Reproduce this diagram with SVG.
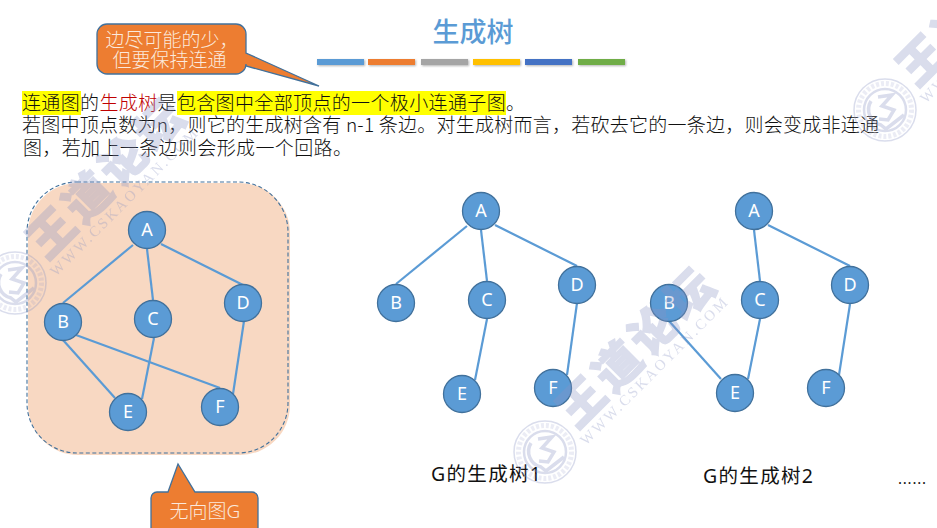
<svg xmlns="http://www.w3.org/2000/svg" width="937" height="528" viewBox="0 0 937 528">
<style>
text{font-family:"Noto Sans","Noto Sans CJK SC",sans-serif}
.body{font-size:19px;fill:#111;font-family:"Noto Sans CJK SC",sans-serif;font-weight:300}
.cap{font-size:19.5px;fill:#111}
.call{fill:#ed7d31;stroke:#41719c;stroke-width:1.3}
.calltext{font-size:19px;fill:#fbe9dc;text-anchor:middle;font-weight:300}
.n circle{fill:#5b9bd5;stroke:#41719c;stroke-width:1.3}
.n text{font-size:18px;fill:#fff;text-anchor:middle}
.e line{stroke:#5b9bd5;stroke-width:2.2}
.bar{filter:drop-shadow(1px 1.5px 1px rgba(0,0,0,.3))}
.wm{opacity:.32;fill:#8a94c4}
.big{font-size:46px;font-weight:900;letter-spacing:5px;text-anchor:middle;stroke:#8a94c4;stroke-width:1.6;font-family:"Noto Sans CJK SC",sans-serif}
.url{font-size:15px;text-anchor:middle;font-family:"Liberation Serif",serif}
</style>
<defs>
<g id="mark">
<circle r="31" fill="none" stroke="#8a94c4" stroke-width="1.5"/>
<circle r="26.5" fill="none" stroke="#8a94c4" stroke-width="5" stroke-dasharray="3 2" opacity=".55"/>
<circle r="21" fill="none" stroke="#8a94c4" stroke-width="2.5"/>
<path d="M-14 -9A16 16 0 0 0 -4 15L1 19L19 5M-7 -13L7 -15L-3 -4L9 0L3 10L-6 9" fill="none" stroke="#8a94c4" stroke-width="3.5"/>
<text class="big" transform="translate(104,-94) rotate(-45)">王道论坛</text>
<text class="url" transform="translate(112,-77) rotate(-45)" textLength="201">WWW.CSKAOYAN.COM</text>
</g>
</defs>
<rect width="937" height="528" fill="#fff"/>

<text x="473" y="42" text-anchor="middle" font-size="27" font-weight="500" fill="#5b9bd5" style="font-family:'Noto Sans CJK SC',sans-serif">生成树</text>
<g id="title-bars" class="bar">
<rect x="317" y="59" width="47" height="6" fill="#5b9bd5"/>
<rect x="368" y="59" width="47" height="6" fill="#ed7d31"/>
<rect x="421" y="59" width="47" height="6" fill="#a5a5a5"/>
<rect x="473" y="59" width="47" height="6" fill="#ffc000"/>
<rect x="525" y="59" width="47" height="6" fill="#4472c4"/>
<rect x="578" y="59" width="47" height="6" fill="#70ad47"/>
</g>

<g id="callout-top">
<path class="call" d="M107 24H236A10 10 0 0 1 246 34V53L319 86L246 66V64A10 10 0 0 1 236 74H107A10 10 0 0 1 97 64V34A10 10 0 0 1 107 24Z"/>
<text class="calltext" x="172" y="47">边尽可能的少，</text>
<text class="calltext" x="169.5" y="67">但要保持连通</text>
</g>

<g id="intro">
<rect x="22" y="91" width="59" height="24" fill="#ff0"/>
<rect x="177" y="91" width="329" height="24" fill="#ff0"/>
<text class="body" x="22" y="110" textLength="503">连通图的<tspan fill="#c00000">生成树</tspan>是包含图中全部顶点的一个极小连通子图。</text>
<text class="body" x="22" y="132" textLength="857">若图中顶点数为n，则它的生成树含有 n-1 条边。对生成树而言，若砍去它的一条边，则会变成非连通</text>
<text class="body" x="23" y="155" textLength="329">图，若加上一条边则会形成一个回路。</text>
</g>

<g id="graph-box">
<rect x="28" y="183" width="262" height="272" rx="50" fill="#f8d8c2"/>
<rect x="27" y="182" width="261" height="271" rx="50" fill="none" stroke="#41719c" stroke-width="1.1" stroke-dasharray="4 2.5"/>
</g>

<g id="connectors" class="e">
<line x1="133" y1="245" x2="63" y2="303"/><line x1="147" y1="249" x2="153" y2="300"/><line x1="161" y1="244" x2="243" y2="285"/>
<line x1="63" y1="340" x2="115" y2="398"/><line x1="76" y1="335" x2="220" y2="388"/><line x1="154" y1="338" x2="142" y2="399"/><line x1="244" y1="321" x2="233" y2="394"/>
<line x1="467" y1="226" x2="396" y2="284"/><line x1="481" y1="230" x2="487" y2="281"/><line x1="495" y1="225" x2="577" y2="266"/>
<line x1="487" y1="319" x2="475" y2="380"/><line x1="577" y1="303" x2="567" y2="375"/>
<line x1="754" y1="230" x2="760" y2="281"/><line x1="768" y1="225" x2="850" y2="266"/><line x1="760" y1="319" x2="748" y2="379"/>
<line x1="669" y1="321" x2="721" y2="379"/><line x1="850" y1="304" x2="839" y2="375"/>
</g>

<g id="g-a" class="n"><circle cx="147" cy="230" r="18.5"/><text x="147" y="236">A</text></g>
<g id="g-b" class="n"><circle cx="63" cy="322" r="18.5"/><text x="63" y="328">B</text></g>
<g id="g-c" class="n"><circle cx="153" cy="319" r="18.5"/><text x="153" y="325">C</text></g>
<g id="g-d" class="n"><circle cx="243" cy="303" r="18.5"/><text x="243" y="309">D</text></g>
<g id="g-e" class="n"><circle cx="128" cy="412" r="18.5"/><text x="128" y="418">E</text></g>
<g id="g-f" class="n"><circle cx="220" cy="407" r="18.5"/><text x="220" y="413">F</text></g>

<g id="t1-a" class="n"><circle cx="481" cy="211" r="18.5"/><text x="481" y="217">A</text></g>
<g id="t1-b" class="n"><circle cx="396" cy="303" r="18.5"/><text x="396" y="309">B</text></g>
<g id="t1-c" class="n"><circle cx="487" cy="300" r="18.5"/><text x="487" y="306">C</text></g>
<g id="t1-d" class="n"><circle cx="577" cy="285" r="18.5"/><text x="577" y="291">D</text></g>
<g id="t1-e" class="n"><circle cx="462" cy="394" r="18.5"/><text x="462" y="400">E</text></g>
<g id="t1-f" class="n"><circle cx="553" cy="388" r="18.5"/><text x="553" y="394">F</text></g>

<g id="t2-a" class="n"><circle cx="754" cy="211" r="18.5"/><text x="754" y="217">A</text></g>
<g id="t2-b" class="n"><circle cx="669" cy="303" r="18.5"/><text x="669" y="309">B</text></g>
<g id="t2-c" class="n"><circle cx="760" cy="300" r="18.5"/><text x="760" y="306">C</text></g>
<g id="t2-d" class="n"><circle cx="850" cy="285" r="18.5"/><text x="850" y="291">D</text></g>
<g id="t2-e" class="n"><circle cx="735" cy="393" r="18.5"/><text x="735" y="399">E</text></g>
<g id="t2-f" class="n"><circle cx="826" cy="388" r="18.5"/><text x="826" y="394">F</text></g>

<g id="callout-bottom">
<path class="call" d="M157 492H168L178 464L195 492H252A6 6 0 0 1 258 498V535H151V498A6 6 0 0 1 157 492Z"/>
<text class="calltext" x="205" y="518">无向图G</text>
</g>

<text class="cap" x="431" y="481" textLength="110">G的生成树1</text>
<text class="cap" x="703" y="483" textLength="110">G的生成树2</text>
<text x="898" y="484" font-size="15" fill="#111" textLength="28">......</text>

<g id="watermarks" class="wm">
<use href="#mark" x="15" y="283"/>
<use href="#mark" x="545" y="452"/>
<use href="#mark" x="885" y="110"/>
</g>
</svg>
